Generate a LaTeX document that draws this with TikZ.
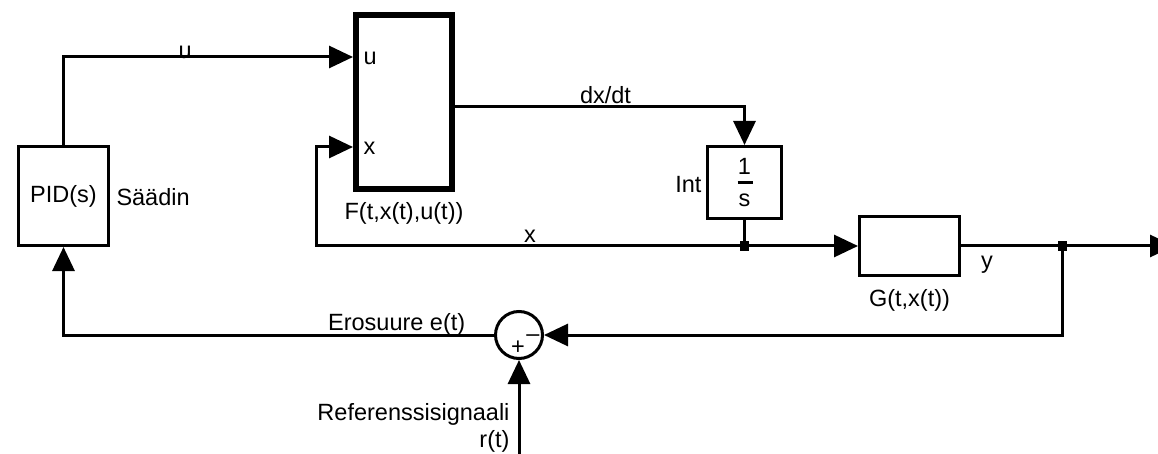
\documentclass[tikz,border=0pt]{standalone}
\usepackage{fontspec}
\setmainfont{Liberation Sans}
\usetikzlibrary{arrows.meta,calc}
\begin{document}
\begin{tikzpicture}[x=1pt,y=-1pt,
  font=\fontsize{23.5}{27}\selectfont,
  line width=3pt,
  blk/.style={draw,rectangle,line width=3pt,inner sep=0pt},
  sig/.style={line width=3pt,-{Triangle[length=24pt,width=22pt]}},
  wire/.style={line width=3pt},
  lbl/.style={inner sep=0pt},
  dot/.style={fill,rectangle,minimum size=9pt,inner sep=0pt}]
\useasboundingbox (0,0) rectangle (1158,454);
% blocks
\node[blk,minimum width=90pt,minimum height=99pt] (pid) at (63.5,196) {PID(s)};
\node[lbl,anchor=west] (saadin) at ($(pid.east)+(5,1)$) {Säädin};
\node[blk,line width=6pt,minimum width=96pt,minimum height=174pt] (F) at (404,102) {};
\node[lbl] (Flab) at ($(F.south)+(0,21)$) {F(t,x(t),u(t))};
\node[blk,minimum width=74pt,minimum height=72pt] (Int) at (744.5,182.5) {};
\node[lbl] (one) at ($(Int.center)+(0,-16)$) {1};
\node[lbl] (ess) at ($(Int.center)+(0,18)$) {s};
\draw[line width=2.5pt] ($(Int.center)+(-7,0)$) -- ($(Int.center)+(8,0)$);
\node[lbl,anchor=east] (intlab) at ($(Int.west)+(-3,2)$) {Int};
\node[blk,minimum width=100pt,minimum height=59pt] (G) at (909.5,246) {};
\node[lbl] (Glab) at ($(G.south)+(0,23)$) {G(t,x(t))};
\node[draw,circle,line width=3pt,minimum size=47pt,inner sep=0pt] (sum) at (519,335) {};
\node[lbl] (minus) at ($(sum.center)+(14,3)$) {–};
\node[lbl] (plus) at ($(sum.center)+(-1,13)$) {+};
% ports
\coordinate (Fu) at ($(F.west)+(0,-45)$);
\coordinate (Fx) at ($(F.west)+(0,45)$);
\node[lbl,anchor=west] (ulab) at ($(Fu)+(9,1)$) {u};
\node[lbl,anchor=west] (xlab) at ($(Fx)+(9,1)$) {x};
\coordinate (j1) at (744.5,246);
\coordinate (j2) at (1062,246);
\coordinate (out) at (1174,246);
\coordinate (ref) at (519,460);
% connectors
\draw[sig] (pid.north) |- node[lbl,pos=0.71,above,yshift=-3pt] {u} (Fu);
\draw[sig] ($(F.east)+(0,5)$) -| node[lbl,pos=0.26,above,yshift=2pt] {dx/dt} (Int.north);
\draw[wire] (Int.south) -- (j1);
\draw[sig] (j1) -| ($(Fx)+(-37,0)$) -- (Fx);
\node[lbl] (xwire) at (530,236) {x};
\draw[sig] (j1) -- (G.west);
\draw[wire] (G.east) -- (j2);
\draw[sig] (j2) -- (out);
\node[lbl] (ylab) at (987,265) {y};
\draw[sig] (j2) |- (sum.east);
\draw[sig] (sum.west) -| node[lbl,pos=0.113,above,yshift=-2pt] {Erosuure e(t)} (pid.south);
\draw[sig] (ref) -- (sum.south);
\node[lbl,anchor=east,align=right] (reflab) at (511,428) {Referenssisignaali\\r(t)};
\node[dot] (d1) at (j1) {};
\node[dot] (d2) at (j2) {};
\end{tikzpicture}
\end{document}
